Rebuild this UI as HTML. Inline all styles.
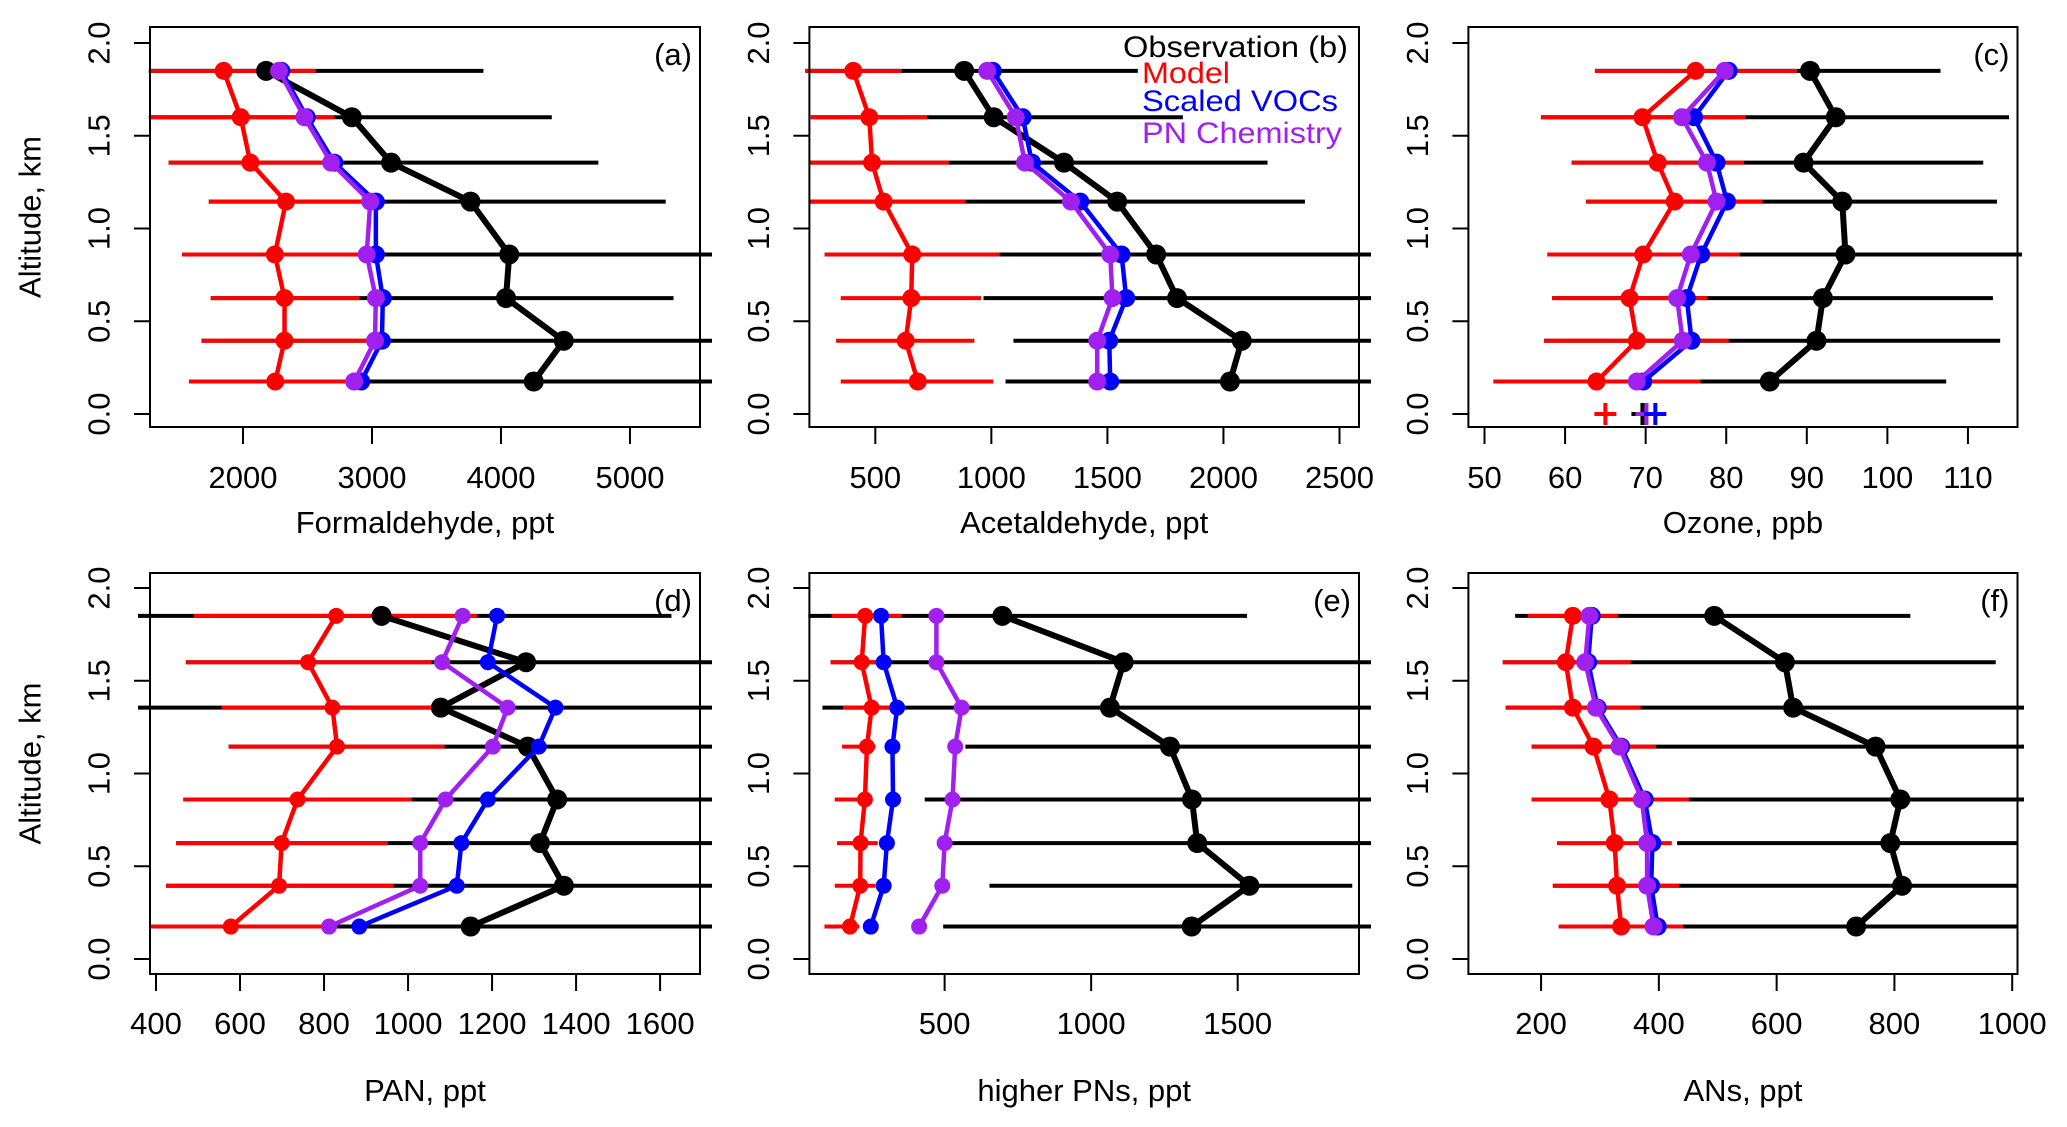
<!DOCTYPE html>
<html><head><meta charset="utf-8">
<style>
html,body{margin:0;padding:0;background:#fff;}
svg{display:block;font-family:"Liberation Sans",Arial,sans-serif;}
</style></head>
<body>
<svg id="fig" width="2067" height="1127" viewBox="0 0 2067 1127" xmlns="http://www.w3.org/2000/svg"></svg>
<script>
// Shared altitude bins (km)
const altitudes = [1.85, 1.6, 1.355, 1.145, 0.86, 0.625, 0.395, 0.175];
const yTicks = [0, 0.5, 1.0, 1.5, 2.0];
const yTickLabels = ["0.0", "0.5", "1.0", "1.5", "2.0"];

// (a) Formaldehyde
const aObs = [2179, 2844, 3148, 3764, 4064, 4039, 4487, 4254];
const aObsLo = [1270, 1270, 1424, 1735, 1528, 1750, 1678, 1581];
const aObsHi = [3864, 4394, 4755, 5277, 5700, 5338, 5700, 5700];
const aModel = [1850, 1982, 2057, 2333, 2247, 2322, 2322, 2250];
const aModelLo = [1270, 1270, 1424, 1735, 1528, 1750, 1678, 1581];
const aModelHi = [2565, 2708, 2780, 2977, 2905, 2905, 2977, 2870];
const aScaled = [2297, 2494, 2708, 3030, 3030, 3084, 3077, 2916];
const aPN = [2279, 2476, 2683, 2987, 2959, 3030, 3023, 2862];
const aTicks = [2000, 3000, 4000, 5000];

// (b) Acetaldehyde
const bObs = [883, 1010, 1313, 1542, 1710, 1800, 2079, 2028];
const bObsLo = [198, 222, 212, 212, 282, 966, 1095, 1061];
const bObsHi = [1631, 1825, 2190, 2351, 2700, 2700, 2700, 2700];
const bModel = [405, 474, 486, 536, 659, 655, 631, 683];
const bModelLo = [198, 222, 212, 212, 282, 351, 331, 351];
const bModelHi = [613, 722, 817, 887, 1036, 956, 927, 1008];
const bScaled = [1006, 1135, 1175, 1383, 1561, 1581, 1508, 1512];
const bPN = [982, 1105, 1145, 1343, 1512, 1522, 1456, 1456];
const bTicks = [500, 1000, 1500, 2000, 2500];

// (c) Ozone
const cObs = [90.4, 93.6, 89.6, 94.4, 94.8, 92.0, 91.2, 85.4];
const cObsLo = [63.7, 57.0, 60.8, 62.6, 57.8, 58.4, 57.4, 51.1];
const cObsHi = [106.6, 115.1, 111.9, 113.6, 116.7, 113.1, 114.0, 107.3];
const cModel = [76.2, 69.6, 71.5, 73.6, 69.7, 68.0, 68.9, 63.9];
const cModelLo = [63.7, 57.0, 60.8, 62.6, 57.8, 58.4, 57.4, 51.1];
const cModelHi = [88.8, 82.4, 82.2, 84.5, 81.7, 77.6, 80.3, 76.8];
const cScaled = [80.3, 76.0, 78.8, 80.1, 76.9, 75.1, 75.7, 69.7];
const cPN = [79.8, 74.5, 77.6, 78.8, 75.6, 73.9, 74.6, 68.9];
const cTicks = [50, 60, 70, 80, 90, 100, 110];
// surface "+" markers in (c): model, observation, PN chemistry, scaled VOCs
const cPlusVals = [65.0, 69.6, 70.1, 71.2];
const cPlusColors = ["#ff0000", "#000000", "#a020f0", "#0000ff"];

// (d) PAN
const dObs = [937, 1281, 1078, 1285, 1355, 1314, 1371, 1149];
const dObsLo = [350, 471, 350, 573, 465, 448, 424, 384];
const dObsHi = [1627, 1750, 1750, 1750, 1750, 1750, 1750, 1750];
const dModel = [829, 762, 820, 831, 737, 699, 693, 578];
const dModelLo = [490, 471, 556, 573, 465, 448, 424, 384];
const dModelHi = [1164, 1056, 1084, 1087, 1009, 952, 965, 798];
const dScaled = [1212, 1190, 1351, 1311, 1190, 1127, 1116, 884];
const dPN = [1130, 1081, 1237, 1202, 1089, 1029, 1029, 812];
const dTicks = [400, 600, 800, 1000, 1200, 1400, 1600];

// (e) higher PNs
const eObs = [697, 1111, 1064, 1269, 1344, 1362, 1540, 1343];
const eObsLo = [35, 111, 83, 571, 432, 516, 653, 495];
const eObsHi = [1532, 2000, 2000, 2000, 2000, 2000, 1891, 2000];
const eModel = [229, 217, 251, 235, 228, 213, 212, 177];
const eModelLo = [114, 111, 153, 150, 125, 133, 125, 90];
const eModelHi = [354, 290, 320, 264, 248, 272, 264, 209];
const eScaled = [283, 292, 338, 322, 324, 303, 292, 248];
const ePN = [472, 472, 558, 536, 527, 500, 492, 413];
const eTicks = [500, 1000, 1500];

// (f) ANs
const fObs = [494, 614, 628, 768, 810, 793, 813, 735];
const fObsLo = [156, 135, 140, 184, 184, 431, 220, 230];
const fObsHi = [827, 972, 1020, 1020, 1020, 1010, 1010, 1010];
const fModel = [254, 242, 254, 289, 316, 325, 329, 336];
const fModelLo = [178, 135, 140, 184, 184, 227, 220, 230];
const fModelHi = [331, 352, 369, 395, 451, 422, 434, 441];
const fScaled = [286, 280, 296, 336, 376, 389, 387, 398];
const fPN = [282, 275, 293, 333, 371, 380, 380, 391];
const fTicks = [200, 400, 600, 800, 1000];

const NS = "http://www.w3.org/2000/svg";
const svg = document.getElementById("fig");
function mk(tag, attrs, parent) {
  const e = document.createElementNS(NS, tag);
  for (const k in attrs) e.setAttribute(k, attrs[k]);
  (parent || svg).appendChild(e);
  return e;
}

const panels = [
  {id:"a", title:"Formaldehyde, ppt", l:150, r:700, row:0, d0:1279, d1:5543, ticks:aTicks,
   obs:aObs, obsLo:aObsLo, obsHi:aObsHi, model:aModel, modelLo:aModelLo, modelHi:aModelHi, scaled:aScaled, pn:aPN, ytitle:true, r1:9, r2:9},
  {id:"b", title:"Acetaldehyde, ppt", l:809.4, r:1359, row:0, d0:216, d1:2584, ticks:bTicks,
   obs:bObs, obsLo:bObsLo, obsHi:bObsHi, model:bModel, modelLo:bModelLo, modelHi:bModelHi, scaled:bScaled, pn:bPN, legend:true, r1:9, r2:9},
  {id:"c", title:"Ozone, ppb", l:1468.4, r:2017.5, row:0, d0:48.0, d1:116.15, ticks:cTicks,
   obs:cObs, obsLo:cObsLo, obsHi:cObsHi, model:cModel, modelLo:cModelLo, modelHi:cModelHi, scaled:cScaled, pn:cPN, plus:true, r1:9, r2:9},
  {id:"d", title:"PAN, ppt", l:150, r:700, row:1, d0:385.7, d1:1695, ticks:dTicks,
   obs:dObs, obsLo:dObsLo, obsHi:dObsHi, model:dModel, modelLo:dModelLo, modelHi:dModelHi, scaled:dScaled, pn:dPN, ytitle:true, r1:9, r2:8},
  {id:"e", title:"higher PNs, ppt", l:809.4, r:1359, row:1, d0:38.6, d1:1914, ticks:eTicks,
   obs:eObs, obsLo:eObsLo, obsHi:eObsHi, model:eModel, modelLo:eModelLo, modelHi:eModelHi, scaled:eScaled, pn:ePN, r1:9, r2:8},
  {id:"f", title:"ANs, ppt", l:1468.4, r:2017.5, row:1, d0:76.6, d1:1009, ticks:fTicks,
   obs:fObs, obsLo:fObsLo, obsHi:fObsHi, model:fModel, modelLo:fModelLo, modelHi:fModelHi, scaled:fScaled, pn:fPN, r1:9, r2:9}
];
const rows = [
  {t:27, b:427, y0:414, y2:43, tickLab:488, titleY:533},
  {t:573, b:974, y0:959, y2:588, tickLab:1034, titleY:1101}
];

panels.forEach(p => {
  const R = rows[p.row];
  const g = mk("g", {});
  
  
  const x = v => p.l + (v - p.d0) / (p.d1 - p.d0) * (p.r - p.l);
  const y = a => R.y0 - a * (R.y0 - R.y2) / 2;

  const clipId = "clip" + p.id;
  const cp = mk("clipPath", {id: clipId}, g);
  mk("rect", {x: p.l - 12, y: R.t, width: p.r - p.l + 24, height: R.b - R.t}, cp);
  const plot = mk("g", {"clip-path": "url(#" + clipId + ")"}, g);
  
  

  altitudes.forEach((a, i) => {
    const eb = mk("line", {x1: x(p.obsLo[i]), x2: x(p.obsHi[i]), y1: y(a), y2: y(a), stroke: "#000", "stroke-width": 4}, plot);
    
    
  });
  altitudes.forEach((a, i) => {
    const eb = mk("line", {x1: x(p.modelLo[i]), x2: x(p.modelHi[i]), y1: y(a), y2: y(a), stroke: "#ff0000", "stroke-width": 4}, plot);
    
    
  });

  const series = [
    {vals: p.obs, color: "#000000", name: "observation", w: 6, r: p.r1 + 1},
    {vals: p.model, color: "#ff0000", name: "model", w: 4.5, r: p.r2},
    {vals: p.scaled, color: "#0000ff", name: "scaled-vocs", w: 4.5, r: p.r2},
    {vals: p.pn, color: "#a020f0", name: "pn-chemistry", w: 4.5, r: p.r2}
  ];
  series.forEach(s => {
    const pts = altitudes.map((a, i) => x(s.vals[i]) + "," + y(a)).join(" ");
    const pl = mk("polyline", {points: pts, fill: "none", stroke: s.color, "stroke-width": s.w, "stroke-linejoin": "round"}, plot);
    
    
    altitudes.forEach((a, i) => {
      const c = mk("circle", {cx: x(s.vals[i]), cy: y(a), r: s.r, fill: s.color}, plot);
      
      
    });
  });

  if (p.plus) {
    cPlusVals.forEach((v, i) => {
      const pg = mk("g", {stroke: cPlusColors[i], "stroke-width": 4}, plot);
      
      
      mk("line", {x1: x(v) - 11, x2: x(v) + 11, y1: y(0), y2: y(0)}, pg);
      mk("line", {x1: x(v), x2: x(v), y1: y(0) - 11, y2: y(0) + 11}, pg);
    });
  }

  const box = mk("rect", {x: p.l, y: R.t, width: p.r - p.l, height: R.b - R.t, fill: "none", stroke: "#000", "stroke-width": 2}, g);
  
  

  const ya = mk("g", {}, g);
  
  
  yTicks.forEach((t, i) => {
    mk("line", {x1: p.l - 16, x2: p.l, y1: y(t), y2: y(t), stroke: "#000", "stroke-width": 2}, ya);
    const lx = p.l - 51;
    const tx = mk("text", {x: lx, y: y(t), "font-size": 31, "text-anchor": "middle", "dominant-baseline": "central", transform: "rotate(-90 " + lx + " " + y(t) + ")"}, ya);
    tx.textContent = yTickLabels[i];
    
    
  });
  const xa = mk("g", {}, g);
  
  
  p.ticks.forEach(t => {
    mk("line", {x1: x(t), x2: x(t), y1: R.b, y2: R.b + 17, stroke: "#000", "stroke-width": 2}, xa);
    const tx = mk("text", {x: x(t), y: R.tickLab, "font-size": 31, "text-anchor": "middle"}, xa);
    tx.textContent = String(t);
    
    
  });
  const xt = mk("text", {x: (p.l + p.r) / 2, y: R.titleY, "font-size": 31, "text-anchor": "middle"}, g);
  xt.textContent = p.title;
  
  

  if (p.ytitle) {
    const cy = (R.t + R.b) / 2 - 10;
    const yt = mk("text", {x: 30, y: cy, "font-size": 31, "text-anchor": "middle", "dominant-baseline": "central", transform: "rotate(-90 30 " + cy + ")"}, g);
    yt.textContent = "Altitude, km";
    
    
  }

  if (p.legend) {
    const lg = mk("g", {"font-size": 30}, g);
    
    
    const items = [
      ["Observation (b)", "#000", 1123, R.t + 30, 225],
      ["Model", "#ff0000", 1142, R.t + 56, 88],
      ["Scaled VOCs", "#0000ff", 1142, R.t + 84, 196],
      ["PN Chemistry", "#a020f0", 1142, R.t + 116, 200]
    ];
    items.forEach(it => {
      const t = mk("text", {x: it[2], y: it[3], fill: it[1], textLength: it[4], lengthAdjust: "spacingAndGlyphs"}, lg);
      t.textContent = it[0];
      
      
    });
  } else {
    const pt = mk("text", {x: p.r - 8, y: R.t + 38, "font-size": 31, "text-anchor": "end"}, g);
    pt.textContent = "(" + p.id + ")";
    
    
  }
});
</script>
</body></html>
